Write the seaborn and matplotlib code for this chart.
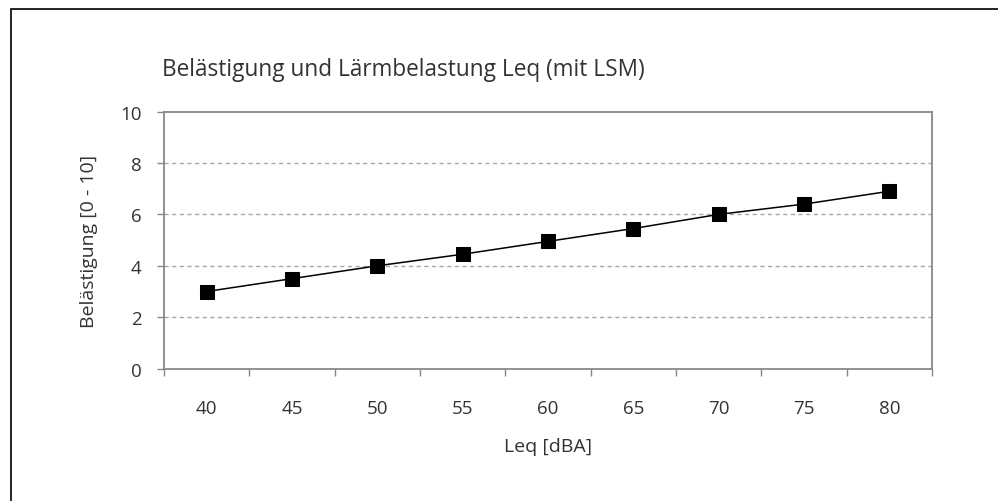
import matplotlib
matplotlib.use("Agg")
import matplotlib.pyplot as plt
from matplotlib.patches import Rectangle
import numpy as np
import pandas as pd
import seaborn as sns

# Lärmbelastung (Leq in dBA) und mittlere Belästigung (Skala 0-10)
leq = [40, 45, 50, 55, 60, 65, 70, 75, 80]
belaestigung = [3.0, 3.5, 4.0, 4.45, 4.95, 5.45, 6.0, 6.4, 6.9]
y_ticks = [0, 2, 4, 6, 8, 10]

df = pd.DataFrame({"Leq": leq, "Belästigung": belaestigung})

sns.set_theme(style="white")
plt.rcParams["font.family"] = ["Open Sans", "DejaVu Sans"]
text_color = "#333333"

fig = plt.figure(figsize=(9.98, 5.02), dpi=100)
ax = fig.add_axes([164 / 998, 1 - 369.6 / 502, (932 - 164) / 998, (369.6 - 112.6) / 502])

sns.lineplot(data=df, x="Leq", y="Belästigung", ax=ax, color="black",
             linewidth=1.1, marker="s", markersize=9.5,
             markeredgecolor="black", markerfacecolor="black", zorder=5)

# category-style x axis: ticks between categories, labels at category centres
step = leq[1] - leq[0]
ax.set_xlim(leq[0] - step / 2, leq[-1] + step / 2)
ax.set_xticks([v - step / 2 for v in leq] + [leq[-1] + step / 2])
ax.set_xticklabels([])
ax.set_xticks(leq, minor=True)
ax.set_xticklabels([str(v) for v in leq], minor=True)
ax.tick_params(axis="x", which="major", direction="out", length=5, width=1,
               color="#888888", bottom=True)
ax.tick_params(axis="x", which="minor", length=0, pad=22, labelsize=13.5,
               labelcolor=text_color)

ax.set_ylim(0, 10)
ax.set_yticks(y_ticks)
ax.set_yticklabels([str(v) for v in y_ticks])
ax.tick_params(axis="y", direction="out", length=5, width=1, color="#888888",
               left=True, pad=11, labelsize=13.5, labelcolor=text_color)

for v in y_ticks[1:-1]:
    ax.axhline(v, color="#a8a8a8", linewidth=1, linestyle=(0, (3, 2.5)), zorder=1)

for side in ["left", "bottom", "top", "right"]:
    ax.spines[side].set_visible(True)
    ax.spines[side].set_color("#888888")
    ax.spines[side].set_linewidth(1.3)

ax.set_xlabel("Leq [dBA]", fontsize=14, color=text_color)
ax.xaxis.label.set_va("center")
ax.xaxis.set_label_coords(0.5, (369.6 - 447) / 257)
ax.set_ylabel("Belästigung [0 - 10]", fontsize=14, color=text_color)
ax.yaxis.label.set_va("center")
ax.yaxis.set_label_coords((89 - 164) / 768, 0.5)

fig.text(162 / 998, 1 - 70 / 502, "Belästigung und Lärmbelastung Leq (mit LSM)",
         fontsize=16.3, color=text_color, ha="left", va="center")

# outer chart frame
fig.add_artist(Rectangle((11 / 998, -0.1), 1.2, 1 - 10 / 502 + 0.1,
                         transform=fig.transFigure, fill=False,
                         edgecolor="black", linewidth=1.2))

fig.savefig("out.png", dpi=100)
